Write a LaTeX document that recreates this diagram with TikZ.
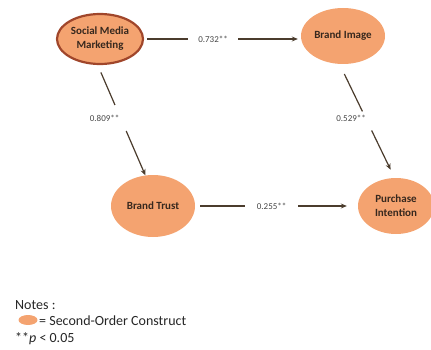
\documentclass[tikz,border=0pt]{standalone}
\usepackage{fontspec}
\setmainfont{Carlito}
\usetikzlibrary{arrows.meta,shapes.geometric}
\definecolor{fillor}{RGB}{244,163,112}
\definecolor{bordred}{RGB}{160,70,43}
\definecolor{arrowc}{RGB}{75,60,45}
\definecolor{txtc}{RGB}{55,40,30}
\definecolor{labc}{RGB}{70,70,70}
\tikzset{
  construct/.style={ellipse, fill=fillor, draw=none, inner sep=0pt, align=center,
    font=\fontsize{11}{14}\selectfont\bfseries, text=txtc},
  arr/.style={draw=arrowc, line width=1.2pt, -{Stealth[length=6pt,width=5pt]}},
  lab/.style={font=\fontsize{9}{10}\selectfont, text=labc, inner sep=0pt},
  gap/.style={fill=white, inner sep=0pt, sloped, minimum height=5pt},
  note/.style={font=\fontsize{14}{16}\selectfont, text=black!85, anchor=west, inner sep=0pt}
}
\begin{document}
\begin{tikzpicture}[x=1pt,y=-1pt]
\useasboundingbox (0,0) rectangle (431,350);
\node[construct, minimum width=86pt, minimum height=50pt, draw=bordred, line width=2.2pt] (smm) at (100,39) {Social Media\\Marketing};
\node[construct, minimum width=84pt, minimum height=56pt] (bi) at (343,36) {Brand Image};
\node[construct, minimum width=84pt, minimum height=62pt] (bt) at (153,206) {Brand Trust};
\node[construct, minimum width=76pt, minimum height=56pt] (pi) at (396,206) {Purchase\\Intention};

\draw[arr, shorten <=3pt, shorten >=3pt] (smm.east) -- node[pos=0.44, lab, fill=white, inner xsep=10pt, inner ysep=2pt] (l1) {0.732**} (smm.east -| bi.west);
\draw[arr, shorten <=5pt, shorten >=11pt] (bt) -- node[pos=0.47, lab, fill=white, inner xsep=12pt, inner ysep=2pt] (l4) {0.255**} (pi);
\draw[arr, shorten <=8pt] (smm.-95) -- node[pos=0.48, gap, minimum width=28pt] (g2) {} (bt.104);
\node[lab, anchor=east] (l2) at ([xshift=-1pt]g2.center) {0.809**};
\draw[arr, shorten <=11pt, shorten >=9pt] (bi.-97) -- node[pos=0.5, gap, minimum width=21pt] (g3) {} (pi.93);
\node[lab, anchor=east] (l3) at ([xshift=-1pt,yshift=3pt]g3.center) {0.529**};

\node[note] (n1) at (15,305) {Notes :};
\node[ellipse, fill=fillor, minimum width=19pt, minimum height=10pt, inner sep=0pt] (lg) at (28,320) {};
\node[note] (n2) at (39,321) {= Second-Order Construct};
\node[note] (n3) at (15,339) {**\textit{p} < 0.05};
\end{tikzpicture}
\end{document}
